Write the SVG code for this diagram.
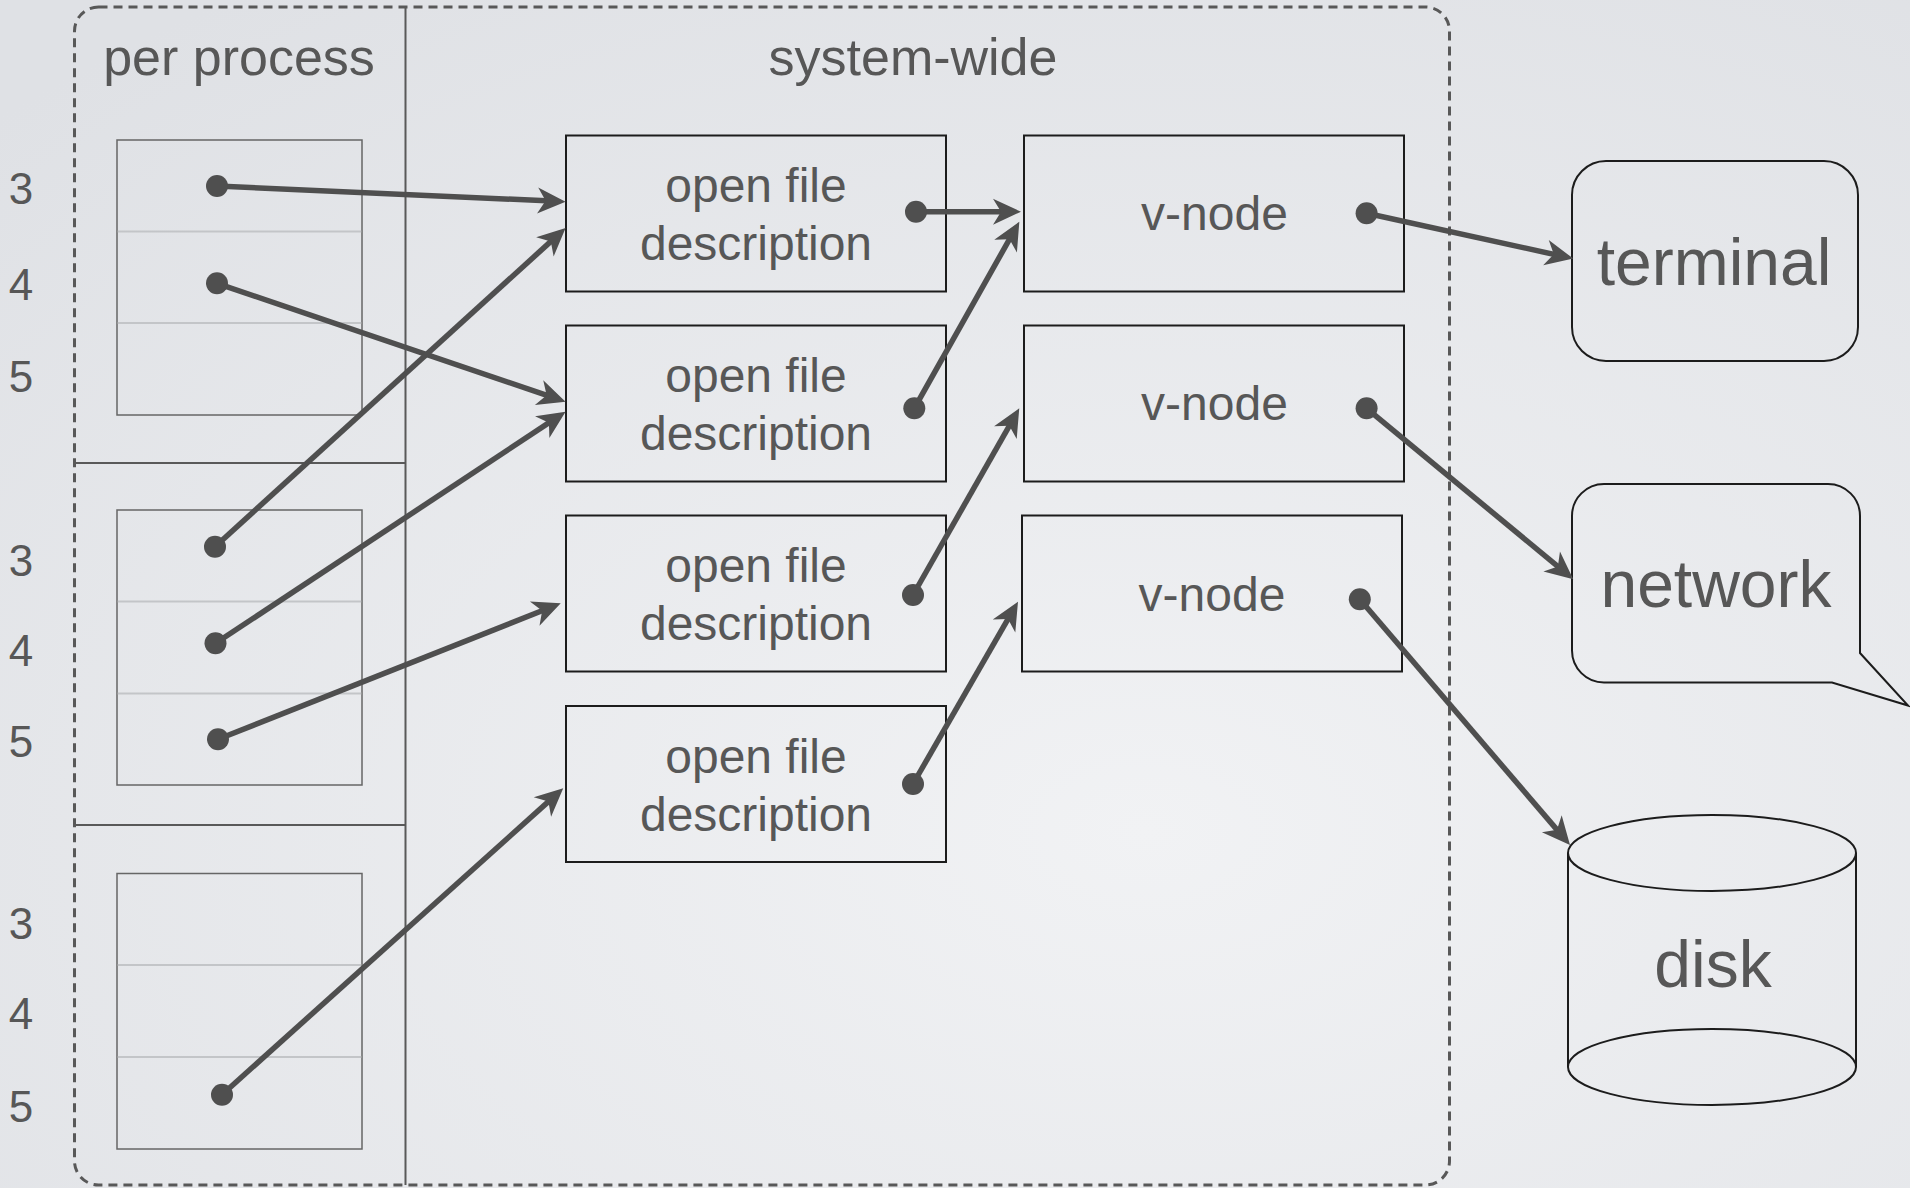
<svg xmlns="http://www.w3.org/2000/svg" width="1910" height="1188" viewBox="0 0 1910 1188">
  <defs>
    <radialGradient id="bg" cx="0.6" cy="0.7" r="0.85">
      <stop offset="0" stop-color="#f1f2f4"/>
      <stop offset="1" stop-color="#dfe1e5"/>
    </radialGradient>
    <marker id="head" markerUnits="userSpaceOnUse" markerWidth="60" markerHeight="60" viewBox="-30 -30 60 60" refX="0" refY="0" orient="auto" overflow="visible">
      <path d="M 8 0 L -20 -13 L -12 0 L -20 13 Z" fill="#4f4f4f"/>
    </marker>
    <marker id="dot" markerUnits="userSpaceOnUse" markerWidth="30" markerHeight="30" viewBox="-15 -15 30 30" refX="0" refY="0" overflow="visible">
      <circle r="11" fill="#4f4f4f"/>
    </marker>
    <style>
      .lbl { font-family: "Liberation Sans", Arial, sans-serif; fill: #575757; text-anchor: middle; }
      .hdr { font-size: 52px; }
      .num { font-size: 44px; }
      .box { font-size: 48px; }
      .big { font-size: 66px; }
      .frame { fill: none; stroke: #585858; stroke-width: 3; stroke-dasharray: 9 6; }
      .sep { stroke: #595959; stroke-width: 2; fill: none; }
      .table { fill: none; stroke: #666666; stroke-width: 1.5; }
      .row { stroke: #c3c5c8; stroke-width: 2; }
      .node { fill: none; stroke: #1c1c1c; stroke-width: 2; }
      .dev { fill: none; stroke: #1c1c1c; stroke-width: 2; }
      .arrow { fill: none; stroke: #4f4f4f; stroke-width: 5.5; marker-start: url(#dot); marker-end: url(#head); }
    </style>
  </defs>

  <rect width="1910" height="1188" fill="url(#bg)"/>

  <!-- outer boundary and column separators -->
  <g id="frame">
    <rect class="frame" x="74.5" y="7" width="1375" height="1178" rx="24" ry="24"/>
    <line class="sep" x1="405.5" y1="7" x2="405.5" y2="1185"/>
    <line class="sep" x1="76" y1="463" x2="405.5" y2="463"/>
    <line class="sep" x1="76" y1="825" x2="405.5" y2="825"/>
    <text class="lbl hdr" x="239" y="75">per process</text>
    <text class="lbl hdr" x="913" y="75">system-wide</text>
  </g>

  <!-- per-process descriptor tables -->
  <g id="fd-table-1">
    <rect class="table" x="117" y="140" width="245" height="275"/>
    <line class="row" x1="117.75" y1="231.5" x2="361.25" y2="231.5"/>
    <line class="row" x1="117.75" y1="323" x2="361.25" y2="323"/>
    <text class="lbl num" x="21" y="203.5">3</text>
    <text class="lbl num" x="21" y="299.5">4</text>
    <text class="lbl num" x="21" y="392">5</text>
  </g>
  <g id="fd-table-2">
    <rect class="table" x="117" y="510" width="245" height="275"/>
    <line class="row" x1="117.75" y1="601.5" x2="361.25" y2="601.5"/>
    <line class="row" x1="117.75" y1="693.5" x2="361.25" y2="693.5"/>
    <text class="lbl num" x="21" y="575.5">3</text>
    <text class="lbl num" x="21" y="666">4</text>
    <text class="lbl num" x="21" y="757">5</text>
  </g>
  <g id="fd-table-3">
    <rect class="table" x="117" y="873.5" width="245" height="275.5"/>
    <line class="row" x1="117.75" y1="965" x2="361.25" y2="965"/>
    <line class="row" x1="117.75" y1="1057" x2="361.25" y2="1057"/>
    <text class="lbl num" x="21" y="939">3</text>
    <text class="lbl num" x="21" y="1028.5">4</text>
    <text class="lbl num" x="21" y="1121.5">5</text>
  </g>

  <!-- open file descriptions -->
  <g id="ofd-1">
    <rect class="node" x="566" y="135.5" width="380" height="156"/>
    <text class="lbl box" x="756" y="202">open file</text>
    <text class="lbl box" x="756" y="260">description</text>
  </g>
  <g id="ofd-2">
    <rect class="node" x="566" y="325.5" width="380" height="156"/>
    <text class="lbl box" x="756" y="392">open file</text>
    <text class="lbl box" x="756" y="450">description</text>
  </g>
  <g id="ofd-3">
    <rect class="node" x="566" y="515.5" width="380" height="156"/>
    <text class="lbl box" x="756" y="582">open file</text>
    <text class="lbl box" x="756" y="640">description</text>
  </g>
  <g id="ofd-4">
    <rect class="node" x="566" y="706" width="380" height="156"/>
    <text class="lbl box" x="756" y="772.5">open file</text>
    <text class="lbl box" x="756" y="830.5">description</text>
  </g>

  <!-- v-nodes -->
  <g id="vnode-1">
    <rect class="node" x="1024" y="135.5" width="380" height="156"/>
    <text class="lbl box" x="1214.5" y="230">v-node</text>
  </g>
  <g id="vnode-2">
    <rect class="node" x="1024" y="325.5" width="380" height="156"/>
    <text class="lbl box" x="1214.5" y="420">v-node</text>
  </g>
  <g id="vnode-3">
    <rect class="node" x="1022" y="515.5" width="380" height="156"/>
    <text class="lbl box" x="1212" y="610.5">v-node</text>
  </g>

  <!-- devices -->
  <g id="terminal">
    <rect class="dev" x="1572" y="161" width="286" height="200" rx="34" ry="34"/>
    <text class="lbl big" x="1714" y="285">terminal</text>
  </g>
  <g id="network">
    <path class="dev" d="M 1604 484 H 1828 A 32 32 0 0 1 1860 516 V 653 L 1908 705.5 L 1832 682.5 H 1604 A 32 32 0 0 1 1572 650.5 V 516 A 32 32 0 0 1 1604 484 Z"/>
    <text class="lbl big" x="1716" y="607">network</text>
  </g>
  <g id="disk">
    <line class="dev" x1="1568" y1="853" x2="1568" y2="1067"/>
    <line class="dev" x1="1856" y1="853" x2="1856" y2="1067"/>
    <ellipse class="dev" cx="1712" cy="853" rx="144" ry="38"/>
    <ellipse class="dev" cx="1712" cy="1067" rx="144" ry="38"/>
    <text class="lbl big" x="1713" y="987">disk</text>
  </g>

  <!-- references between tables -->
  <g id="connectors">
    <path class="arrow" d="M 217 186 L 557.6 201.3"/>
    <path class="arrow" d="M 217 283.3 L 558 399.1"/>
    <path class="arrow" d="M 215 546.7 L 559.7 233.4"/>
    <path class="arrow" d="M 215.5 643.3 L 558.9 416.1"/>
    <path class="arrow" d="M 218 739.3 L 553.3 606.3"/>
    <path class="arrow" d="M 222 1094.7 L 557.3 793.6"/>
    <path class="arrow" d="M 916 211.7 L 1013 211.7"/>
    <path class="arrow" d="M 914.3 408.3 L 1015.4 228.7"/>
    <path class="arrow" d="M 913 595 L 1015.3 415.3"/>
    <path class="arrow" d="M 913 784 L 1014 608.6"/>
    <path class="arrow" d="M 1366.6 213.3 L 1565.5 256.9"/>
    <path class="arrow" d="M 1366.6 408.3 L 1567.1 574.2"/>
    <path class="arrow" d="M 1359.8 599.3 L 1564.8 838.9"/>
  </g>
</svg>
